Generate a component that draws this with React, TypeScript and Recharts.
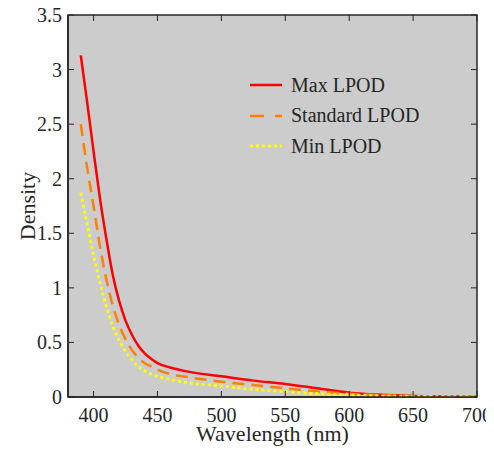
import { LineChart, Line, XAxis, YAxis, ReferenceArea, Legend } from "recharts";

const wavelength = [390, 395, 400, 405, 410, 415, 420, 425, 430, 435, 440, 445, 450, 460, 475, 500, 525, 550, 575, 600, 625, 650, 675, 700];
const maxLpod = [3.13, 2.7, 2.25, 1.82, 1.45, 1.12, 0.88, 0.7, 0.57, 0.47, 0.4, 0.35, 0.31, 0.27, 0.23, 0.19, 0.15, 0.12, 0.08, 0.04, 0.02, 0.01, 0.005, 0.003];
const standardLpod = [2.5, 2.1, 1.75, 1.38, 1.08, 0.84, 0.66, 0.53, 0.43, 0.36, 0.31, 0.28, 0.25, 0.21, 0.18, 0.14, 0.11, 0.08, 0.05, 0.03, 0.015, 0.008, 0.004, 0.002];
const minLpod = [1.87, 1.58, 1.3, 1.05, 0.83, 0.65, 0.52, 0.42, 0.34, 0.28, 0.24, 0.21, 0.19, 0.16, 0.13, 0.1, 0.07, 0.05, 0.03, 0.02, 0.01, 0.005, 0.003, 0.002];

const xTicks = [400, 450, 500, 550, 600, 650, 700];
const yTicks = [0, 0.5, 1, 1.5, 2, 2.5, 3, 3.5];
const xDomain = [380, 700];
const yDomain = [0, 3.5];

const seriesInfo = [
    { key: "max", name: "Max LPOD", color: "#ff0000", dash: undefined as string | undefined, legendDash: undefined as string | undefined, width: 2.5 },
    { key: "standard", name: "Standard LPOD", color: "#ff8000", dash: "12 7", legendDash: "14 11", width: 2.5 },
    { key: "min", name: "Min LPOD", color: "#ffff00", dash: "3 3", legendDash: "3 3", width: 3 },
];

const data = wavelength.map((w, i) => ({
    w,
    max: maxLpod[i],
    standard: standardLpod[i],
    min: minLpod[i],
}));

const ink = "#262626";
const font = "'Liberation Serif', 'Times New Roman', serif";

// plot box size in px (chart 486x455, margins below)
const plotW = 409;
const plotH = 382;

const BottomTick = (props: any) => {
    const { x, y, payload } = props;
    return (
        <g>
            <line x1={x} y1={y} x2={x} y2={y - 6} stroke={ink} strokeWidth={1} />
            <line x1={x} y1={y - plotH} x2={x} y2={y - plotH + 6} stroke={ink} strokeWidth={1} />
            <text x={x} y={y + 25} textAnchor="middle" fontSize={20} fontFamily={font} fill={ink}>
                {payload.value}
            </text>
        </g>
    );
};

const LeftTick = (props: any) => {
    const { x, y, payload } = props;
    return (
        <g>
            <line x1={x} y1={y} x2={x + 6} y2={y} stroke={ink} strokeWidth={1} />
            <line x1={x + plotW} y1={y} x2={x + plotW - 6} y2={y} stroke={ink} strokeWidth={1} />
            <text x={x - 6} y={y} dy="0.35em" textAnchor="end" fontSize={20} fontFamily={font} fill={ink}>
                {payload.value}
            </text>
        </g>
    );
};

const YTitle = ({ viewBox }: any) => {
    const cx = viewBox.x + 19;
    const cy = viewBox.y + viewBox.height / 2;
    return (
        <text x={cx} y={cy} transform={`rotate(-90 ${cx} ${cy})`} textAnchor="middle" dy="0.35em" fontSize={22} fontFamily={font} fill={ink}>
            Density
        </text>
    );
};

const XTitle = ({ viewBox }: any) => {
    const cx = viewBox.x + viewBox.width / 2;
    return (
        <text x={cx} y={viewBox.y + 44} textAnchor="middle" fontSize={22} fontFamily={font} fill={ink}>
            Wavelength (nm)
        </text>
    );
};

const LegendBox = () => (
    <div style={{ fontSize: 20, color: ink, fontFamily: font }}>
        {seriesInfo.map((s) => (
            <div key={s.key} style={{ display: "flex", alignItems: "center", height: 30.5 }}>
                <svg width={32} height={6} style={{ marginRight: 9 }}>
                    <line x1={0} y1={3} x2={32} y2={3} stroke={s.color} strokeWidth={s.width} strokeDasharray={s.legendDash} />
                </svg>
                <span>{s.name}</span>
            </div>
        ))}
    </div>
);

export default function App() {
    return (
        <div style={{ width: 486, height: 455, marginTop: -8 }}>
            <LineChart width={486} height={455} data={data} margin={{ top: 15, right: 17, left: 0, bottom: 0 }}>
                <ReferenceArea
                    x1={xDomain[0]}
                    x2={xDomain[1]}
                    y1={yDomain[0]}
                    y2={yDomain[1]}
                    fill="#cccccc"
                    fillOpacity={1}
                    stroke={ink}
                    strokeWidth={1.5}
                />
                <XAxis
                    dataKey="w"
                    type="number"
                    domain={xDomain}
                    ticks={xTicks}
                    height={58}
                    tickSize={0}
                    tickMargin={0}
                    tickLine={false}
                    tick={<BottomTick />}
                    axisLine={{ stroke: ink, strokeWidth: 1.5 }}
                    allowDataOverflow
                    label={<XTitle />}
                />
                <YAxis
                    type="number"
                    domain={yDomain}
                    ticks={yTicks}
                    width={60}
                    tickSize={0}
                    tickMargin={0}
                    tickLine={false}
                    tick={<LeftTick />}
                    axisLine={{ stroke: ink, strokeWidth: 1.5 }}
                    allowDataOverflow
                    label={<YTitle />}
                />
                <Legend
                    layout="vertical"
                    align="center"
                    verticalAlign="middle"
                    content={<LegendBox />}
                    wrapperStyle={{ top: 70, left: 242, width: 220 }}
                />
                {seriesInfo.map((s) => (
                    <Line
                        key={s.key}
                        type="monotone"
                        dataKey={s.key}
                        name={s.name}
                        stroke={s.color}
                        strokeWidth={s.width}
                        strokeDasharray={s.dash}
                        dot={false}
                        activeDot={false}
                        isAnimationActive={false}
                    />
                ))}
            </LineChart>
        </div>
    );
}
